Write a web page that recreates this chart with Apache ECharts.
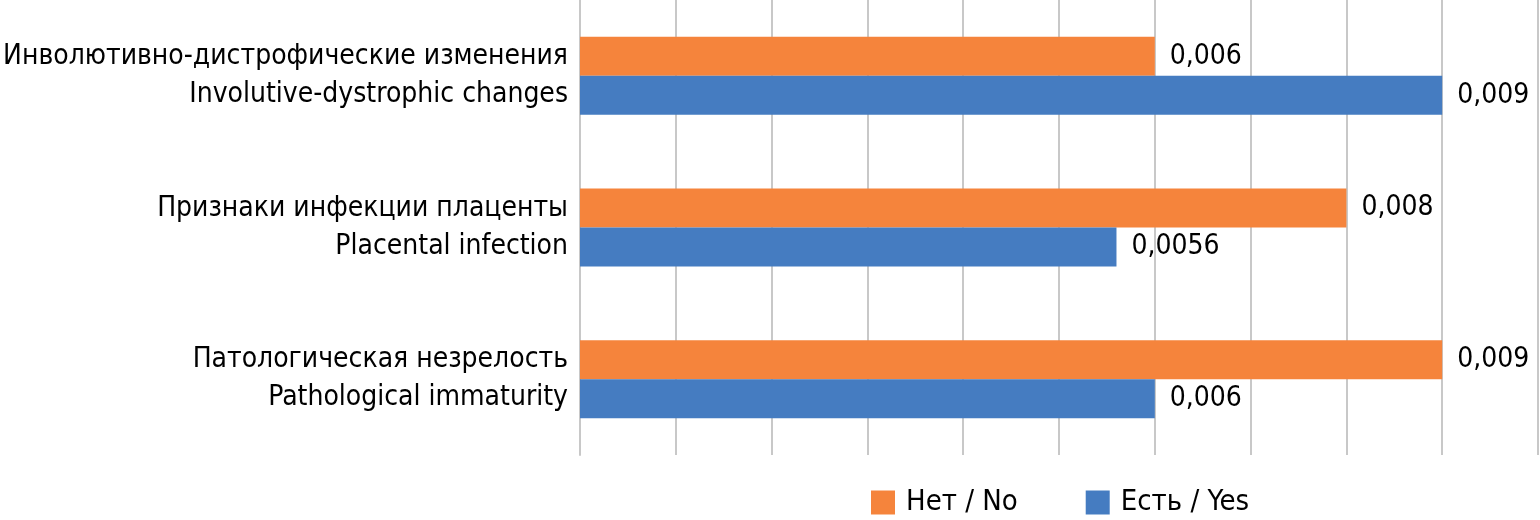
<!DOCTYPE html>
<html><head><meta charset="utf-8">
<script src="https://cdn.jsdelivr.net/npm/echarts@6/dist/echarts.min.js"></script>
<style>html,body{margin:0;padding:0;background:#fff}#c{width:1540px;height:520px}</style>
</head><body><div id="c"></div>
<script>
const categories = [
  "Инволютивно-дистрофические изменения\nInvolutive-dystrophic changes",
  "Признаки инфекции плаценты\nPlacental infection",
  "Патологическая незрелость\nPathological immaturity"
];
const seriesNames = ["Нет / No", "Есть / Yes"];
const noValues = [0.006, 0.008, 0.009];
const yesValues = [0.009, 0.0056, 0.006];
const FONT = "'DejaVu Sans Condensed', 'Liberation Sans Narrow', sans-serif";
const fmt = p => String(p.value).replace('.', ',');
const chart = echarts.init(document.getElementById('c'));
chart.setOption({
  animation: false,
  textStyle: {fontFamily: FONT},
  grid: {left: 580, right: 2, top: 0, height: 455, containLabel: false, outerBoundsMode: 'none'},
  legend: {
    top: 483, left: 866, itemWidth: 24, itemHeight: 24, itemGap: 68,
    icon: 'rect',
    textStyle: {fontFamily: FONT, fontSize: 29, color: '#000', padding: [0, 0, 0, 6]},
    data: seriesNames
  },
  xAxis: {
    type: 'value', min: 0, max: 0.01, interval: 0.001,
    axisLabel: {show: false}, axisTick: {show: false}, axisLine: {show: false},
    splitLine: {lineStyle: {color: '#c8c8c8', width: 2}}
  },
  yAxis: {
    type: 'category', inverse: true, data: categories,
    axisTick: {show: false},
    axisLine: {lineStyle: {color: '#c8c8c8', width: 2}},
    axisLabel: {fontFamily: FONT, fontSize: 28, color: '#000', lineHeight: 38, margin: 12, align: 'right'}
  },
  series: [
    {name: seriesNames[0], type: 'bar', data: noValues, barWidth: 39, barGap: '0%',
     itemStyle: {color: '#F5843C'},
     label: {show: true, position: 'right', distance: 15, formatter: fmt, fontFamily: FONT, fontSize: 28, color: '#000'}},
    {name: seriesNames[1], type: 'bar', data: yesValues, barWidth: 39, barGap: '0%',
     itemStyle: {color: '#457CC1'},
     label: {show: true, position: 'right', distance: 15, formatter: fmt, fontFamily: FONT, fontSize: 28, color: '#000'}}
  ]
});
</script></body></html>
